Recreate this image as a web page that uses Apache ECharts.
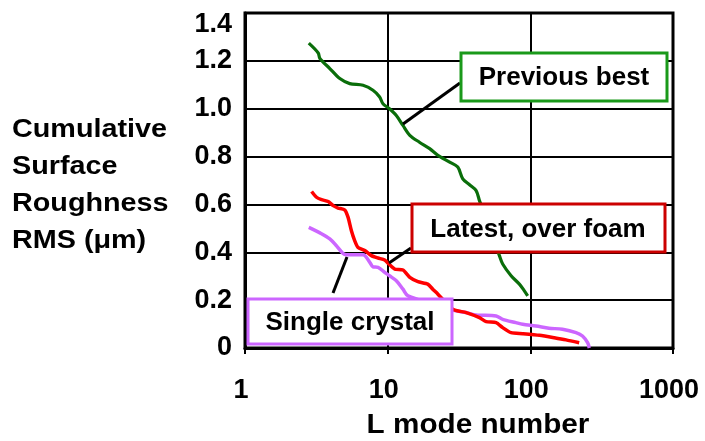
<!DOCTYPE html>
<html>
<head>
<meta charset="utf-8">
<script src="https://cdn.jsdelivr.net/npm/echarts@6/dist/echarts.min.js"></script>
<style>
html,body{margin:0;padding:0;background:#fff;}
#chart{width:705px;height:441px;}
</style>
</head>
<body>
<div id="chart"></div>
<script>
// ---- data ----
var xTickLabels = ['1', '10', '100', '1000'];
var yTickLabels = ['0', '0.2', '0.4', '0.6', '0.8', '1.0', '1.2', '1.4'];

var prevBestL = [2.80, 3.26, 3.35, 3.93, 4.62, 5.42, 6.72, 7.89, 8.79, 9.27, 10.3, 11.5, 12.8, 14.3, 16.7, 19.7, 22.5, 27.2, 31.0, 33.6, 37.5, 41.7, 44.0, 60.7, 64.0, 73.3, 83.8, 90.8, 95.8];
var prevBestRMS = [1.274, 1.233, 1.210, 1.168, 1.126, 1.105, 1.098, 1.077, 1.049, 1.021, 1.000, 0.972, 0.930, 0.889, 0.860, 0.833, 0.805, 0.777, 0.756, 0.707, 0.682, 0.658, 0.616, 0.386, 0.351, 0.302, 0.267, 0.239, 0.218];

var latestL = [2.93, 3.17, 3.44, 3.83, 4.15, 4.49, 5.00, 5.28, 5.57, 5.88, 6.20, 6.91, 7.69, 8.56, 9.53, 10.2, 11.2, 12.8, 14.3, 16.3, 19.1, 20.7, 22.5, 28.6, 35.5, 44.0, 49.0, 57.6, 64.0, 73.3, 88.4, 116, 147, 178, 220];
var latestRMS = [0.654, 0.630, 0.620, 0.612, 0.595, 0.585, 0.577, 0.546, 0.490, 0.448, 0.420, 0.407, 0.386, 0.376, 0.368, 0.351, 0.330, 0.326, 0.295, 0.277, 0.267, 0.246, 0.225, 0.162, 0.148, 0.127, 0.110, 0.106, 0.085, 0.064, 0.060, 0.053, 0.043, 0.034, 0.022];

var crystalL = [2.80, 3.35, 3.93, 4.38, 4.87, 5.14, 6.72, 7.49, 7.89, 8.56, 9.53, 10.3, 11.5, 12.8, 13.9, 28.6, 35.5, 41.7, 57.6, 64.0, 79.2, 88.4, 109.5, 135, 168, 209, 232, 252, 259];
var crystalRMS = [0.504, 0.481, 0.456, 0.427, 0.395, 0.390, 0.390, 0.358, 0.339, 0.337, 0.316, 0.302, 0.281, 0.246, 0.218, 0.158, 0.148, 0.138, 0.134, 0.120, 0.106, 0.099, 0.092, 0.083, 0.078, 0.064, 0.050, 0.022, 0.0];

var seriesNames = ['Previous best', 'Latest, over foam', 'Single crystal'];
var yAxisTitle = 'Cumulative\nSurface\nRoughness\nRMS (\u03bcm)';
var xAxisTitle = 'L mode number';

function zip(a, b) { return a.map(function (v, i) { return [v, b[i]]; }); }

var FONT = '"Liberation Sans", Arial, sans-serif';
var chart = echarts.init(document.getElementById('chart'), null, {renderer: 'canvas'});

var option = {
  animation: false,
  backgroundColor: '#ffffff',
  grid: {left: 245, top: 13, right: 32, bottom: 93, show: true, borderColor: '#000', borderWidth: 3},
  xAxis: {
    type: 'log', logBase: 10, min: 1, max: 1000,
    axisLine: {show: true, lineStyle: {color: '#000', width: 3}},
    axisTick: {show: true, length: 6, lineStyle: {color: '#000', width: 2}},
    splitLine: {show: true, lineStyle: {color: '#000', width: 2}},
    minorTick: {show: false},
    axisLabel: {
      margin: 29, fontFamily: FONT, fontWeight: 'bold', fontSize: 27, color: '#000',
      padding: [0, 8, 0, 0],
      formatter: function (v) {
        var i = Math.round(Math.log10(v));
        return xTickLabels[i] !== undefined ? xTickLabels[i] : '';
      }
    }
  },
  yAxis: {
    type: 'value', min: 0, max: 1.4, interval: 0.2,
    axisLine: {show: true, lineStyle: {color: '#000', width: 3}},
    axisTick: {show: false},
    splitLine: {show: true, lineStyle: {color: '#000', width: 2}},
    axisLabel: {
      margin: 13, fontFamily: FONT, fontWeight: 'bold', fontSize: 27, color: '#000',
      formatter: function (v) {
        var i = Math.round(v / 0.2);
        var t = yTickLabels[i] !== undefined ? yTickLabels[i] : '';
        return i === yTickLabels.length - 1 ? '{top|' + t + '}' : t;
      },
      rich: {top: {fontFamily: FONT, fontWeight: 'bold', fontSize: 27, color: '#000', padding: [24, 0, 0, 0]}}
    }
  },
  series: [
    {name: seriesNames[0], type: 'line', data: zip(prevBestL, prevBestRMS), showSymbol: false, smooth: 0.3,
     lineStyle: {color: '#0a6e0a', width: 3.2}, z: 3},
    {name: seriesNames[1], type: 'line', data: zip(latestL, latestRMS), showSymbol: false, smooth: 0.2,
     lineStyle: {color: '#ff0000', width: 3.5}, z: 3},
    {name: seriesNames[2], type: 'line', data: zip(crystalL, crystalRMS), showSymbol: false, smooth: 0.3,
     lineStyle: {color: '#cc66ff', width: 3.5}, z: 2}
  ],
  graphic: [
    {type: 'text', z: 100, x: 12, y: 112, scaleX: 1.15,
     style: {text: yAxisTitle, fill: '#000', font: 'bold 25px ' + FONT, lineHeight: 37, textAlign: 'left', textVerticalAlign: 'top'}},
    {type: 'text', z: 100, x: 478, y: 426, scaleX: 1.1,
     style: {text: xAxisTitle, fill: '#000', font: 'bold 27px ' + FONT, textAlign: 'center', textVerticalAlign: 'middle'}},
    {type: 'line', z: 100, shape: {x1: 460, y1: 83, x2: 403, y2: 124}, style: {stroke: '#000', lineWidth: 3}},
    {type: 'line', z: 100, shape: {x1: 411, y1: 248, x2: 389, y2: 263}, style: {stroke: '#000', lineWidth: 3}},
    {type: 'line', z: 100, shape: {x1: 347, y1: 257, x2: 333, y2: 293}, style: {stroke: '#000', lineWidth: 3}},
    {type: 'rect', z: 101, shape: {x: 461, y: 53, width: 206, height: 48}, style: {fill: '#fff', stroke: '#1a991a', lineWidth: 3}},
    {type: 'text', z: 102, x: 564, y: 78, style: {text: seriesNames[0], fill: '#000', font: 'bold 26px ' + FONT, textAlign: 'center', textVerticalAlign: 'middle'}},
    {type: 'rect', z: 101, shape: {x: 412, y: 204, width: 253, height: 48}, style: {fill: '#fff', stroke: '#cc0000', lineWidth: 3}},
    {type: 'text', z: 102, x: 538, y: 230, style: {text: seriesNames[1], fill: '#000', font: 'bold 26px ' + FONT, textAlign: 'center', textVerticalAlign: 'middle'}},
    {type: 'rect', z: 101, shape: {x: 248, y: 299, width: 204, height: 45}, style: {fill: '#fff', stroke: '#cc66ff', lineWidth: 3}},
    {type: 'text', z: 102, x: 350, y: 323, style: {text: seriesNames[2], fill: '#000', font: 'bold 26px ' + FONT, textAlign: 'center', textVerticalAlign: 'middle'}}
  ]
};
chart.setOption(option);
</script>
</body>
</html>
